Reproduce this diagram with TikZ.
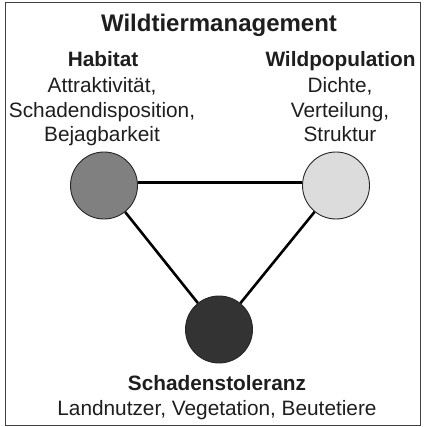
\documentclass[tikz,border=0pt]{standalone}
\usepackage{fontspec}
\setmainfont{Liberation Sans}
\definecolor{txt}{HTML}{1E1E1E}
\definecolor{habc}{HTML}{808080}
\definecolor{wildc}{HTML}{DCDCDC}
\definecolor{schc}{HTML}{333333}
\begin{document}
\begin{tikzpicture}[x=1pt,y=-1pt,
  frame/.style={draw=black!75, line width=1pt},
  titletxt/.style={anchor=base, inner sep=0pt, text=txt, font=\fontsize{24}{28}\selectfont\bfseries},
  headtxt/.style={anchor=base, inner sep=0pt, text=txt, font=\fontsize{20.8}{25}\selectfont\bfseries},
  bodytxt/.style={anchor=base, inner sep=0pt, text=txt, font=\fontsize{20.8}{25}\selectfont},
  ball/.style={circle, draw=black!85, line width=0.9pt, minimum size=67pt, inner sep=0pt},
  link/.style={line width=2.6pt, black}]
\useasboundingbox (0,0) rectangle (424,427);
\draw[frame] (5,2.5) rectangle (420.5,425.5);
\node[titletxt] (title) at (219,31.7) {Wildtiermanagement};
% Habitat
\node[headtxt] (habhead) at (103,66.7) {Habitat};
\node[bodytxt] (hab1) at (102,93) {Attraktivität,};
\node[bodytxt] (hab2) at (102,117.5) {Schadendisposition,};
\node[bodytxt] (hab3) at (102,142) {Bejagbarkeit};
% Wildpopulation
\node[headtxt] (wildhead) at (340.5,66.7) {Wildpopulation};
\node[bodytxt] (wild1) at (340,93) {Dichte,};
\node[bodytxt] (wild2) at (340,117.5) {Verteilung,};
\node[bodytxt] (wild3) at (340,142) {Struktur};
% Schadenstoleranz
\node[headtxt] (schhead) at (217,390) {Schadenstoleranz};
\node[bodytxt] (sch1) at (217,415) {Landnutzer, Vegetation, Beutetiere};
% circles
\node[ball, fill=habc] (h) at (104,185.5) {};
\node[ball, fill=wildc] (w) at (336,185.5) {};
\node[ball, fill=schc] (s) at (219,329.5) {};
% links
\draw[link] ([yshift=3pt]h.east) -- ([yshift=3pt]w.west);
\draw[link] (h) -- (s);
\draw[link] (w) -- (s);
\end{tikzpicture}
\end{document}
